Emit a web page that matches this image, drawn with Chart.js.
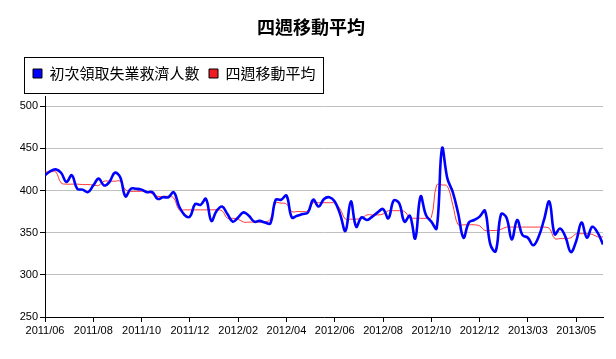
<!DOCTYPE html>
<html>
<head>
<meta charset="utf-8">
<script src="https://cdn.jsdelivr.net/npm/chart.js"></script>
<style>
  body { margin: 0; background: #fff; }
  #wrap { width: 616px; height: 359px; }
</style>
</head>
<body>
<div id="wrap"><canvas id="mycanvas" width="616" height="359"></canvas></div>
<script>
var titleText = '四週移動平均';
var claimsLabel = '初次領取失業救濟人數';
var avgLabel = '四週移動平均';

// one tick label every 9 weeks
var tickLabels = ['2011/06', '2011/08', '2011/10', '2011/12', '2012/02', '2012/04',
                  '2012/06', '2012/08', '2012/10', '2012/12', '2013/03', '2013/05'];

// weekly initial claims (thousands)
var claims = [
  418, 423, 425, 421, 410, 418, 402, 401, 398, 406,
  414, 406, 410, 421, 416, 393, 402, 402, 401, 398,
  398, 390, 392, 392, 398, 381, 371, 369, 384, 383,
  390, 364, 376, 381, 372, 363, 368, 374, 370, 363,
  364, 362, 361, 389, 389, 394, 368, 370, 372, 374,
  389, 381, 390, 392, 387, 372, 352, 387, 357, 368,
  365, 369, 374, 378, 367, 388, 385, 363, 370, 343,
  393, 371, 363, 355, 450, 414, 398, 373, 344, 362,
  365, 369, 376, 336, 328, 372, 368, 342, 365, 347,
  344, 335, 345, 365, 387, 348, 355, 345, 327, 340,
  362, 344, 357, 350, 336
];

// four week average
var average = [
  422, 422, 422, 409, 407.5, 407.5, 407.5, 407, 407, 406.5,
  406, 411, 411, 411, 411, 401, 399, 399, 399, 399,
  396, 393, 393, 393, 391, 377, 377, 377, 377, 377,
  377, 377, 377, 376, 367, 367, 366, 362.5, 362.5, 362.5,
  362.5, 362.5, 366, 385, 385, 384, 375, 375, 375, 376,
  385.5, 385.5, 385.5, 385.5, 385, 378, 366, 366, 366, 367,
  371, 371, 371, 372, 376, 376, 376, 375, 368, 367,
  367, 367, 368, 406.5, 406.5, 405, 383, 359.3, 359.3, 359.3,
  359.3, 358, 352.6, 352.6, 352.6, 354, 356.6, 356.6, 356.6, 356.6,
  356.6, 356.6, 356.6, 356.6, 355, 343, 343, 343, 344, 348.7,
  348.7, 348.7, 348, 345, 345
];

function toPoints(arr) {
  var pts = [];
  for (var i in arr) {
    pts.push({ x: Number(i), y: arr[i] });
  }
  return pts;
}

var tickFont = { family: '"Liberation Sans", Arial, sans-serif', size: 11 };

// nudge the legend right and put a box around it
var legendBorder = {
  id: 'legendBorder',
  afterLayout: function(chart) {
    chart.legend.left = 23.5;
  },
  afterDraw: function(chart) {
    var lg = chart.legend;
    var ctx = chart.ctx;
    ctx.save();
    ctx.strokeStyle = '#000';
    ctx.lineWidth = 1;
    ctx.strokeRect(Math.round(lg.left) + 0.5, Math.round(lg.top) + 0.5, 299, 36);
    ctx.restore();
  }
};

var chartdata = {
  datasets: [
    {
      label: claimsLabel,
      data: toPoints(claims),
      borderColor: '#0000ff',
      backgroundColor: '#0000ff',
      borderWidth: 2.6,
      pointRadius: 0,
      tension: 0.4
    },
    {
      label: avgLabel,
      data: toPoints(average),
      borderColor: 'rgba(255, 20, 20, 0.85)',
      backgroundColor: '#ee1c24',
      borderWidth: 1,
      pointRadius: 0,
      tension: 0.4
    }
  ]
};

var ctx = document.getElementById('mycanvas');

var lineGraph = new Chart(ctx, {
  type: 'line',
  data: chartdata,
  plugins: [legendBorder],
  options: {
    responsive: false,
    animation: false,
    layout: { padding: { left: 19, right: 13, top: 0, bottom: 17 } },
    plugins: {
      tooltip: { enabled: false },
      title: {
        display: true,
        text: titleText,
        color: '#000',
        font: { family: '"Noto Sans CJK TC", sans-serif', size: 18, weight: 'bold', lineHeight: 1.2 },
        padding: { top: 16.7, bottom: 18.2 }
      },
      subtitle: {
        // empty spacer between legend and plot
        display: true,
        text: '',
        padding: 0,
        font: { size: 5, lineHeight: 1 }
      },
      legend: {
        display: true,
        position: 'top',
        align: 'start',
        weight: 1600,
        labels: {
          boxWidth: 9,
          boxHeight: 9,
          padding: 9.5,
          color: '#000',
          font: { family: '"Noto Sans CJK TC", sans-serif', size: 15 },
          generateLabels: function(chart) {
            var items = Chart.defaults.plugins.legend.labels.generateLabels(chart);
            items.forEach(function(it) {
              it.strokeStyle = '#000';
              it.lineWidth = 1;
            });
            return items;
          }
        }
      }
    },
    scales: {
      x: {
        type: 'linear',
        min: 0,
        max: claims.length - 1,
        afterFit: function(scale) { scale.height = 25; },
        border: { color: '#000', width: 1 },
        grid: { drawOnChartArea: false, tickLength: 5, tickColor: '#000' },
        ticks: {
          stepSize: 9,
          includeBounds: false,
          autoSkip: false,
          maxRotation: 0,
          padding: 2,
          color: '#000',
          font: tickFont,
          callback: function(value) {
            return tickLabels[value / 9];
          }
        }
      },
      y: {
        min: 250,
        max: 512,
        afterFit: function(scale) { scale.width = 26; },
        border: { color: '#000', width: 1 },
        grid: { color: '#c0c0c0', tickLength: 5, tickColor: '#000' },
        ticks: {
          stepSize: 50,
          includeBounds: false,
          padding: 2,
          color: '#000',
          font: tickFont
        }
      }
    }
  }
});
</script>
</body>
</html>
